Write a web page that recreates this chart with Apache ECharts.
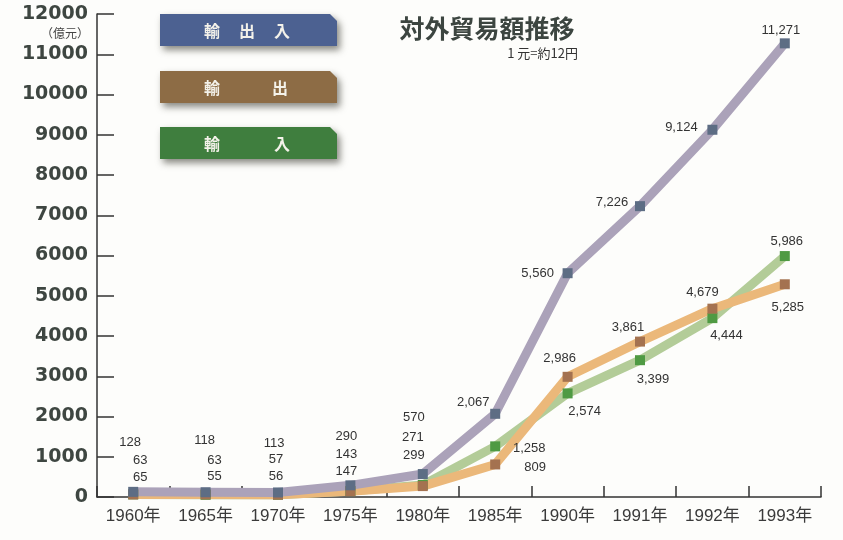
<!DOCTYPE html>
<html>
<head>
<meta charset="utf-8">
<script src="https://cdn.jsdelivr.net/npm/echarts@6/dist/echarts.min.js"></script>
<style>
  html, body { margin: 0; padding: 0; background: #fdfdfb; }
  #chart { width: 843px; height: 540px; }
</style>
</head>
<body>
<div id="chart"></div>
<script>
// 対外貿易額推移（億元）
const years = ['1960年', '1965年', '1970年', '1975年', '1980年', '1985年', '1990年', '1991年', '1992年', '1993年'];
const totalTrade = [128, 118, 113, 290, 570, 2067, 5560, 7226, 9124, 11271];   // 輸出入
const exportsVal = [63, 63, 57, 143, 271, 809, 2986, 3861, 4679, 5285];        // 輸出
const importsVal = [65, 55, 56, 147, 299, 1258, 2574, 3399, 4444, 5986];       // 輸入
const yTicks = [0, 1000, 2000, 3000, 4000, 5000, 6000, 7000, 8000, 9000, 10000, 11000, 12000];

// label placement per point (pixel offset of the label centre from the marker)
const totalLabelOffset = [[-3, -49], [-1, -52], [-4, -49], [-4, -49], [-9, -57], [-22, -11], [-30, 0], [-28, -4], [-31, -2], [-4, -13]];
const exportLabelOffset = [[7, -34], [9, -34], [-2, -35], [-4, -37], [-10, -49], [40, 3], [-8, -18], [-12, -14], [-10, -16], [3, 23]];
const importLabelOffset = [[7, -17], [9, -18], [-2, -18], [-4, -20], [-9, -30], [34, 2], [17, 18], [13, 19], [14, 17], [2, -15]];

const fmt = v => v >= 1000 ? v.toLocaleString('en-US') : String(v);
const labelFont = '"Liberation Sans", Arial, sans-serif';

function lineSeries(name, values, color, z) {
  return {
    name: name,
    type: 'line',
    data: values,
    z: z,
    showSymbol: false,
    symbol: 'none',
    silent: true,
    animation: false,
    lineStyle: { color: color, width: 9, cap: 'butt', join: 'round' }
  };
}

function markerSeries(name, values, color, offsets, z) {
  return {
    name: name,
    type: 'scatter',
    z: z,
    symbol: 'rect',
    symbolSize: 10,
    animation: false,
    itemStyle: { color: color, opacity: 1 },
    data: values.map((v, i) => ({
      value: v,
      label: { offset: offsets[i] }
    })),
    label: {
      show: true,
      position: 'inside',
      color: '#333',
      fontSize: 13,
      fontFamily: labelFont,
      formatter: p => fmt(p.value)
    }
  };
}

function legendBox(top, color, chars) {
  const children = [{
    type: 'polygon',
    shape: { points: [[160, top], [330, top], [337, top + 7], [337, top + 32], [160, top + 32]] },
    style: {
      fill: color,
      shadowBlur: 7,
      shadowOffsetX: 3,
      shadowOffsetY: 4,
      shadowColor: 'rgba(40,40,30,0.55)'
    }
  }];
  chars.forEach(c => {
    children.push({
      type: 'text',
      x: c[1],
      y: top + 17,
      style: {
        text: c[0],
        fill: '#f4f2ea',
        font: 'bold 16px "Noto Sans CJK JP", sans-serif',
        align: 'center',
        verticalAlign: 'middle'
      }
    });
  });
  return { type: 'group', children: children };
}

const chart = echarts.init(document.getElementById('chart'), null, { renderer: 'canvas' });
chart.setOption({
  backgroundColor: '#fdfdfb',
  animation: false,
  grid: { left: 97, right: 22, top: 14, bottom: 43, containLabel: false },
  xAxis: {
    type: 'category',
    data: years,
    boundaryGap: true,
    axisLine: { lineStyle: { color: '#333', width: 1.5 } },
    axisTick: { show: true, inside: true, length: 11, lineStyle: { color: '#333', width: 1.5 } },
    axisLabel: {
      color: '#3a3a3a',
      fontSize: 17,
      fontFamily: '"Liberation Sans", "Noto Sans CJK JP", sans-serif',
      margin: 11,
      interval: 0
    },
    splitLine: { show: false }
  },
  yAxis: {
    type: 'value',
    min: yTicks[0],
    max: yTicks[yTicks.length - 1],
    interval: yTicks[1] - yTicks[0],
    axisLine: { show: true, lineStyle: { color: '#333', width: 1.5 } },
    axisTick: { show: true, inside: true, length: 17, lineStyle: { color: '#333', width: 1.5 } },
    axisLabel: {
      color: '#3e4641',
      fontSize: 19,
      fontWeight: 'bold',
      fontFamily: '"DejaVu Sans", sans-serif',
      margin: 9,
      formatter: v => String(v)
    },
    splitLine: { show: false }
  },
  series: [
    lineSeries('輸入', importsVal, '#b3cc98', 2),
    lineSeries('輸出', exportsVal, '#ebb87a', 3),
    lineSeries('輸出入', totalTrade, '#aba2b9', 4),
    markerSeries('輸入', importsVal, '#4f9a43', importLabelOffset, 10),
    markerSeries('輸出', exportsVal, '#a47250', exportLabelOffset, 11),
    markerSeries('輸出入', totalTrade, '#5d6d84', totalLabelOffset, 12)
  ],
  graphic: [
    legendBox(14, '#4c6191', [['輸', 212], ['出', 247], ['入', 282]]),
    legendBox(71, '#8d6c45', [['輸', 212], ['出', 280]]),
    legendBox(127, '#3f7e3e', [['輸', 212], ['入', 282]]),
    {
      type: 'text',
      x: 89, y: 33,
      style: {
        text: '（億元）',
        fill: '#444',
        font: '12px "Noto Sans CJK JP", sans-serif',
        align: 'right',
        verticalAlign: 'middle'
      }
    },
    {
      type: 'text',
      x: 487, y: 28,
      style: {
        text: '対外貿易額推移',
        fill: '#3c4540',
        font: 'bold 25px "Noto Sans CJK JP", sans-serif',
        align: 'center',
        verticalAlign: 'middle'
      }
    },
    {
      type: 'text',
      x: 578, y: 53,
      style: {
        text: '1 元=約12円',
        fill: '#333',
        font: '13px "Noto Sans CJK JP", sans-serif',
        align: 'right',
        verticalAlign: 'middle'
      }
    }
  ]
});
</script>
</body>
</html>
